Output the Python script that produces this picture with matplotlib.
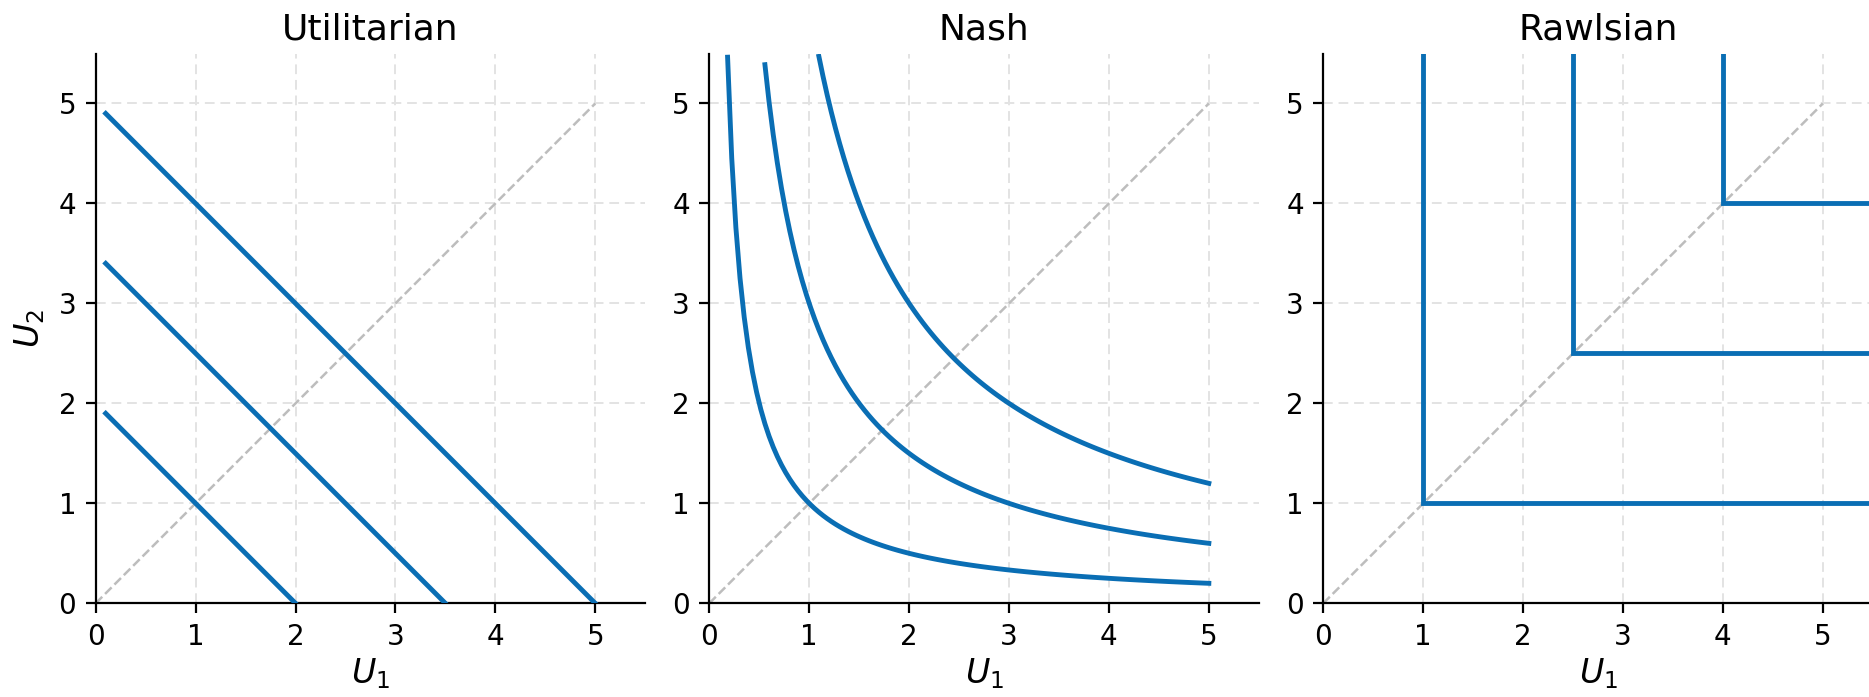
import numpy as np
import matplotlib
matplotlib.use("Agg")
import matplotlib.pyplot as plt

# ---- data ----
titles = ["Utilitarian", "Nash", "Rawlsian"]
util_levels = [2.0, 3.5, 5.0]
nash_levels = [1.0, 3.0, 6.0]
rawls_levels = [1.0, 2.5, 4.0]
u_min, u_max = 0.1, 5.0
ticks = [0, 1, 2, 3, 4, 5]
lim = 5.5

BLUE = "#0A6EB4"
W, H, DPI = 1869, 697, 200
fig = plt.figure(figsize=(W / DPI, H / DPI), dpi=DPI)

lefts = [95.7, 709.3, 1323.3]
aw, ah = 549.5, 549.8
bottom = 697 - 603.3

axes = []
for i, left in enumerate(lefts):
    ax = fig.add_axes([left / W, bottom / H, aw / W, ah / H])
    axes.append(ax)
    ax.set_xlim(0, lim)
    ax.set_ylim(0, lim)
    ax.set_xticks(ticks)
    ax.set_yticks(ticks)
    ax.tick_params(labelsize=10)
    ax.grid(True, linestyle=(0, (5, 3)), color="#e3e3e3", linewidth=0.7)
    ax.set_axisbelow(True)
    for s in ["top", "right"]:
        ax.spines[s].set_visible(False)
    ax.plot([0, 5], [0, 5], linestyle="--", color="#bdbdbd", linewidth=0.9, zorder=1)
    ax.set_title(titles[i], fontsize=13, pad=5)
    ax.set_xlabel(r"$U_1$", fontsize=12, labelpad=2)

axes[0].set_ylabel(r"$U_2$", fontsize=12, labelpad=4)

# Utilitarian
x = np.linspace(u_min, u_max, 50)
for c in util_levels:
    y = c - x
    m = y >= -1e-9
    axes[0].plot(x[m], y[m], color=BLUE, linewidth=1.75, zorder=3)

# Nash
xn = np.linspace(u_min, u_max, 119)
for c in nash_levels:
    y = c / xn
    m = y <= lim
    axes[1].plot(xn[m], y[m], color=BLUE, linewidth=1.75, zorder=3)

# Rawlsian
for c in rawls_levels:
    axes[2].plot([c, c, lim], [lim, c, c], color=BLUE, linewidth=1.75, zorder=3,
                 solid_joinstyle="miter")

fig.savefig("out.png", dpi=DPI)
